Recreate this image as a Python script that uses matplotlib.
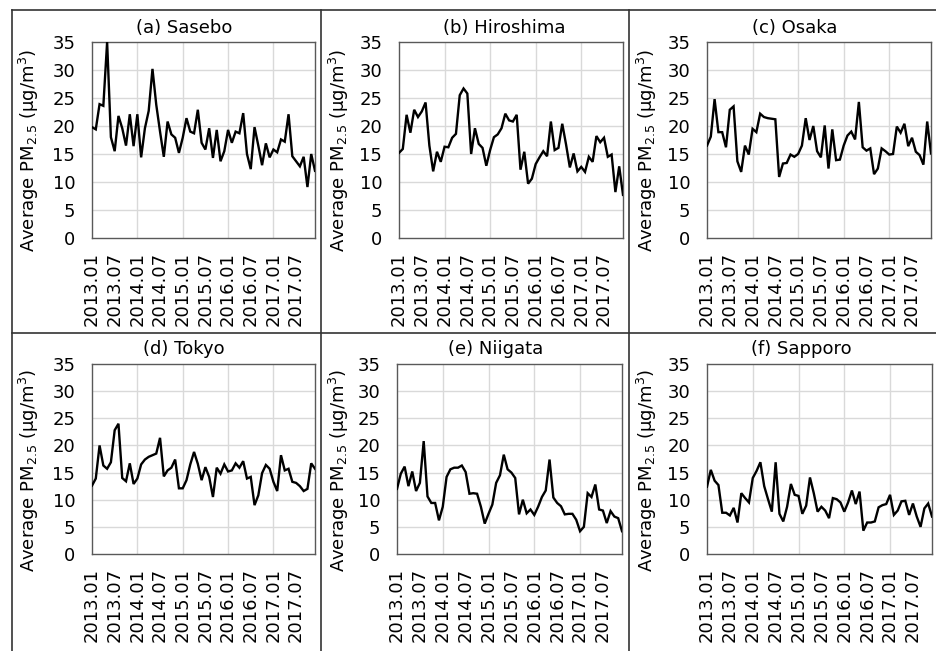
import matplotlib
matplotlib.use("Agg")
import matplotlib.pyplot as plt
from matplotlib.lines import Line2D

plt.rcParams['font.family'] = ['DejaVu Sans']
plt.rcParams['mathtext.fontset'] = 'dejavusans'

# Monthly mean PM2.5, 2013.01 - 2017.12
months = [f"{y}.{m:02d}" for y in range(2013, 2018) for m in range(1, 13)]

sasebo = [19.8, 19.4, 23.9, 23.6, 35.0, 18.0, 15.5, 21.8, 19.6, 16.5,
          22.1, 16.4, 22.1, 14.4, 19.6, 22.7, 30.2, 23.8, 19.0, 14.5,
          20.8, 18.5, 17.9, 15.2, 17.9, 21.4, 19.0, 18.7, 22.9, 17.0,
          15.8, 19.6, 14.3, 19.3, 13.7, 15.5, 19.3, 17.0, 19.0, 18.7,
          22.3, 15.0, 12.3, 19.8, 16.5, 13.0, 16.9, 14.4, 15.8, 15.3,
          17.6, 17.2, 22.1, 14.6, 13.7, 12.8, 14.5, 9.1, 15.0, 12.0]

hiroshima = [15.2, 15.9, 22.0, 18.8, 22.9, 21.6, 22.6, 24.2, 16.5, 11.9,
             15.4, 13.6, 16.3, 16.2, 17.9, 18.6, 25.5, 26.7, 25.8, 15.0,
             19.6, 16.8, 16.1, 12.9, 15.7, 18.0, 18.5, 19.6, 22.2, 21.0,
             20.8, 22.0, 12.2, 15.4, 9.7, 10.6, 13.2, 14.4, 15.5, 14.6,
             20.8, 15.7, 16.1, 20.4, 16.7, 12.6, 15.1, 11.9, 12.7, 11.8,
             14.5, 13.6, 18.2, 17.1, 17.9, 14.5, 14.9, 8.2, 12.8, 7.7]

osaka = [16.5, 18.1, 24.8, 18.9, 18.9, 16.2, 22.9, 23.5, 13.7, 11.8,
         16.5, 14.9, 19.5, 18.9, 22.2, 21.6, 21.4, 21.3, 21.2, 10.9,
         13.3, 13.4, 14.9, 14.5, 15.0, 16.5, 21.4, 17.5, 20.0, 15.5,
         14.4, 20.1, 12.4, 19.4, 13.9, 14.0, 16.5, 18.3, 19.0, 17.6,
         24.3, 16.2, 15.6, 16.0, 11.4, 12.4, 16.0, 15.5, 14.9, 15.0,
         19.9, 18.8, 20.4, 16.4, 17.9, 15.4, 14.8, 13.1, 20.8, 15.1]

tokyo = [12.6, 13.9, 20.0, 16.3, 15.7, 16.9, 22.8, 24.0, 14.0, 13.4,
         16.7, 12.9, 13.9, 16.5, 17.4, 17.9, 18.2, 18.5, 21.4, 14.3,
         15.4, 15.9, 17.4, 12.1, 12.1, 13.6, 16.5, 18.8, 16.6, 13.6,
         16.0, 14.2, 10.5, 15.9, 14.8, 16.5, 15.2, 15.4, 16.7, 15.9,
         17.1, 13.9, 14.2, 9.0, 10.8, 14.9, 16.4, 15.7, 13.3, 11.6,
         18.2, 15.4, 15.7, 13.3, 13.1, 12.5, 11.6, 12.0, 16.7, 15.7]

niigata = [12.0, 14.8, 16.1, 12.5, 15.2, 11.6, 13.1, 20.8, 10.6, 9.4,
           9.4, 6.2, 8.7, 14.2, 15.6, 15.9, 15.9, 16.3, 15.1, 11.1,
           11.2, 11.1, 8.7, 5.6, 7.4, 9.1, 13.1, 14.5, 18.3, 15.6,
           15.0, 14.0, 7.3, 10.0, 7.5, 8.2, 7.2, 8.7, 10.5, 11.7,
           17.4, 10.4, 9.4, 8.8, 7.3, 7.4, 7.4, 6.3, 4.2, 5.0,
           11.2, 10.5, 12.8, 8.2, 8.0, 5.7, 7.9, 6.9, 6.6, 4.2]

sapporo = [12.4, 15.5, 13.5, 12.7, 7.6, 7.6, 7.1, 8.5, 5.8, 11.2,
           10.3, 9.5, 14.0, 15.3, 16.9, 12.5, 10.1, 7.8, 16.9, 7.4,
           6.0, 8.7, 12.9, 10.9, 10.7, 7.4, 8.9, 14.1, 11.2, 7.8,
           8.7, 8.0, 6.6, 10.3, 10.1, 9.5, 7.8, 9.5, 11.7, 9.2,
           11.5, 4.3, 5.8, 5.8, 6.0, 8.6, 9.0, 9.2, 10.9, 7.2,
           8.0, 9.7, 9.8, 7.2, 9.3, 6.9, 5.0, 8.4, 9.3, 6.9]

titles = ["(a) Sasebo", "(b) Hiroshima", "(c) Osaka",
          "(d) Tokyo", "(e) Niigata", "(f) Sapporo"]
series = [sasebo, hiroshima, osaka, tokyo, niigata, sapporo]

y_ticks = [0, 5, 10, 15, 20, 25, 30, 35]
label_step = 6
grid_step = 12
ylabel = r"Average PM$_{2.5}$ ($\mathrm{\mu}$g/m$^{3}$)"

W, H = 936, 651
fig = plt.figure(figsize=(W / 100, H / 100), dpi=100)
fig.patch.set_facecolor("white")


def fx(px):
    return px / W


def fy(py):
    return 1 - py / H


# plot boxes in pixel units: left, top, right, bottom
boxes = [(92, 42, 315, 238), (399, 42, 623, 238), (707, 42, 931, 238),
         (92, 364, 315, 554), (397, 364, 622, 554), (707, 364, 932, 554)]
title_pos = [(184, 28), (504, 28), (795, 28),
             (184, 349), (496, 349), (801, 349)]
ylabel_pos = [(29, 150), (339, 150), (647, 150),
              (29, 470), (339, 470), (647, 470)]

frame_col = "#595959"
grid_col = "#d9d9d9"
fs = 13

n = len(months)
xs = list(range(n))

for box, tpos, lpos, title, vals in zip(boxes, title_pos, ylabel_pos, titles, series):
    l, t, r, b = box
    ax = fig.add_axes([fx(l), fy(b), (r - l) / W, (b - t) / H])
    ax.plot(xs, vals, color="black", lw=1.7, solid_joinstyle="miter", zorder=3)
    ax.set_xlim(0, n - 1)
    ax.set_ylim(0, 35)
    ax.set_yticks(y_ticks)
    ax.set_yticklabels([str(v) for v in y_ticks], fontsize=fs)
    ax.set_xticks(xs[::label_step])
    ax.set_xticklabels(months[::label_step], rotation=90, fontsize=fs)
    ax.tick_params(axis="both", length=0, colors="black")
    ax.tick_params(axis="y", pad=12)
    ax.tick_params(axis="x", pad=10)
    for v in y_ticks[1:-1]:
        ax.axhline(v, color=grid_col, lw=1.0, zorder=1)
    for gx in xs[grid_step::grid_step]:
        ax.axvline(gx, color=grid_col, lw=1.0, zorder=1)
    for s in ax.spines.values():
        s.set_color(frame_col)
        s.set_linewidth(1.0)
    fig.text(fx(tpos[0]), fy(tpos[1]), title, ha="center", va="center", fontsize=fs)
    fig.text(fx(lpos[0]), fy(lpos[1]), ylabel, ha="center", va="center",
             rotation=90, fontsize=fs)

# panel separators
sep_col = "#333333"
fig.add_artist(Line2D([fx(12), 1], [fy(10), fy(10)], color=sep_col, lw=1.2))
fig.add_artist(Line2D([fx(12), 1], [fy(333), fy(333)], color=sep_col, lw=1.2))
for vx in (12, 321, 629):
    fig.add_artist(Line2D([fx(vx), fx(vx)], [fy(10), 0], color=sep_col, lw=1.2))

fig.savefig("out.png", dpi=100, facecolor="white")
